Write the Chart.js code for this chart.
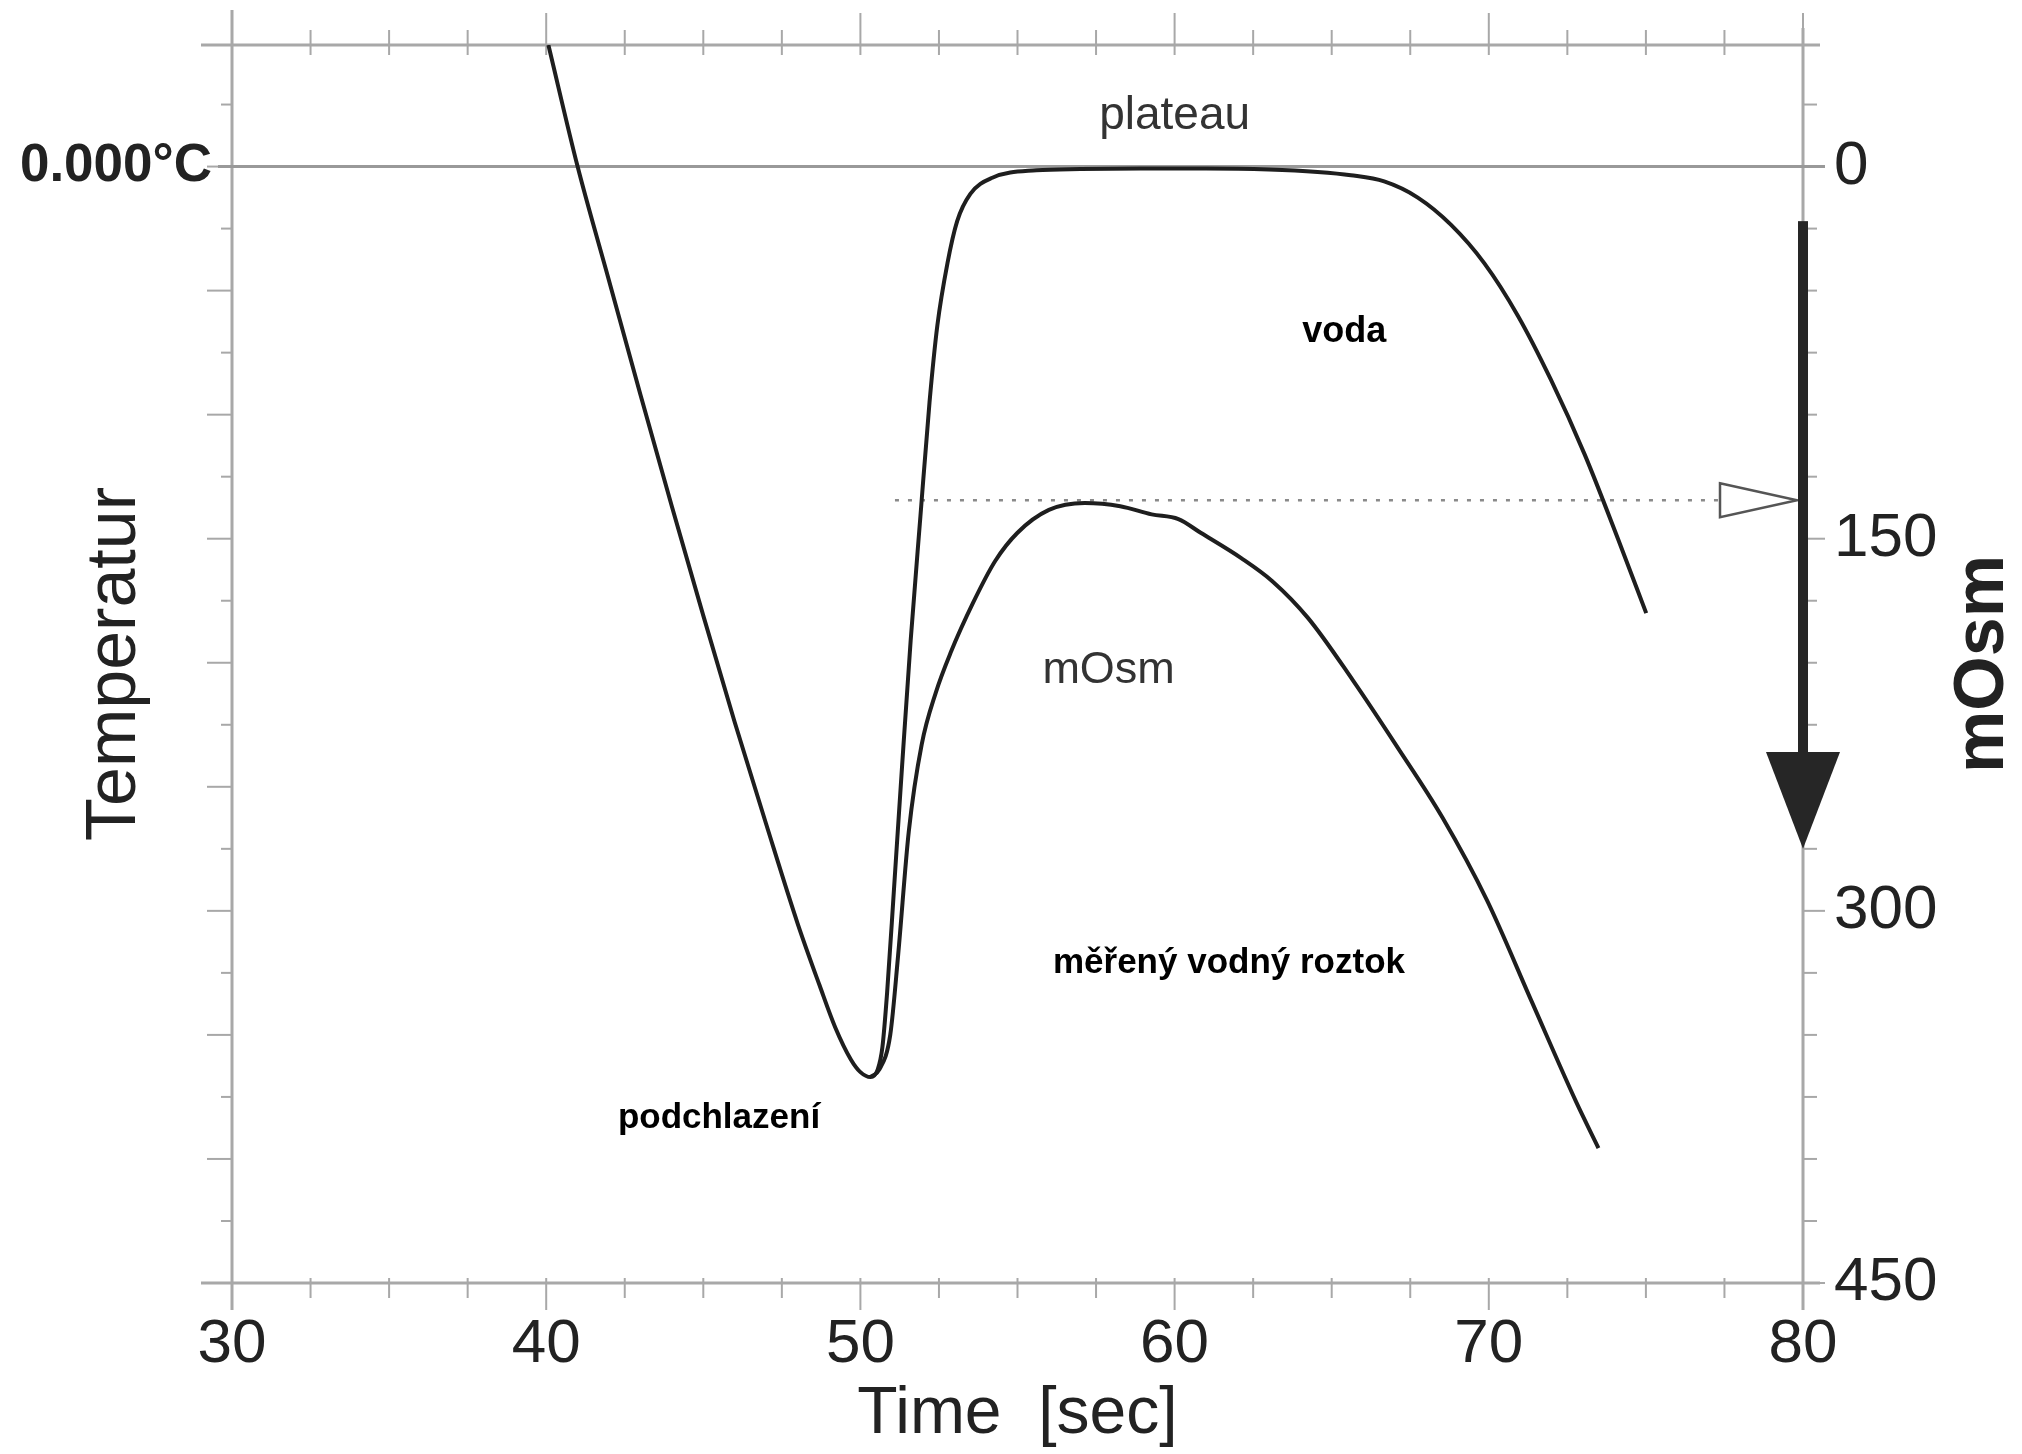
<!DOCTYPE html>
<html lang="cs">
<head>
<meta charset="utf-8">
<title>Křivka tuhnutí – osmometr</title>
<script src="https://cdn.jsdelivr.net/npm/chart.js@4"></script>
<style>
  html, body { margin: 0; padding: 0; background: #fff; }
  #wrap { width: 2022px; height: 1454px; }
</style>
</head>
<body>
<div id="wrap"><canvas id="myChart" width="2022" height="1454"></canvas></div>
<script>
// tick labels
const timeTicks = [30, 40, 50, 60, 70, 80];
const mosmTicks = [0, 150, 300, 450];
const zeroLabel = '0.000°C';

// voda: cooling, supercooling dip, plateau at 0, then falling again
const vodaTime = [40.07, 41.0, 42.0, 43.0, 44.0, 45.0, 46.0, 47.0, 48.0, 48.7, 49.2, 49.7, 50.0, 50.32,
  50.55, 50.7, 50.85, 51.07, 51.33, 51.6, 51.91, 52.2, 52.45, 52.77, 53.08, 53.5, 54.2, 55.6, 57.0, 59.0,
  61.0, 63.0, 64.55, 65.61, 66.67, 67.74, 68.8, 69.86, 70.92, 71.98, 73.05, 74.11, 75.01];
const vodaMosm = [-49, 0, 46, 92, 137, 181, 224, 265, 305, 330, 347, 360, 365, 367,
  364, 355, 333, 291, 241, 191, 141, 95, 64, 39, 22, 11, 4.5, 1.5, 1, 0.8,
  0.8, 1.2, 2.2, 3.5, 6, 12.5, 23.5, 39, 60, 86, 116, 150, 180];

// měřený vodný roztok: rises from the dip to ~135 mOsm and falls
const roztokTime = [50.32, 50.6, 50.95, 51.2, 51.54, 51.95, 52.4, 52.87, 53.58, 54.29, 55.0, 56.0, 57.14,
  58.27, 59.27, 60.12, 60.83, 62.12, 63.11, 64.25, 65.67, 67.09, 68.52, 69.94, 71.36, 72.78, 73.49];
const roztokMosm = [367, 364, 350, 318, 268, 233, 212, 196, 176, 159, 147.6, 138.4, 135.6,
  136.9, 140.2, 142.1, 147.6, 157.8, 167.1, 182, 207, 234, 262.3, 295.7, 336.4, 377, 395.6];

// freezing point of the solution (dotted line + open marker)
const freezeMosm = 134.5;
const freezeFrom = 51.1;

const notes = [
  { text: 'plateau', t: 60.0, m: -20.3, font: 'normal 46px', color: '#333' },
  { text: 'voda', t: 65.4, m: 66.8, font: 'bold 36px', color: '#000' },
  { text: 'mOsm', t: 57.9, m: 203, font: 'normal 45px', color: '#333' },
  { text: 'měřený vodný roztok', t: 61.73, m: 321, font: 'bold 35px', color: '#000' },
  { text: 'podchlazení', t: 45.5, m: 383.5, font: 'bold 35px', color: '#000' }
];

const FONT = "'Liberation Sans', Arial, sans-serif";
Chart.defaults.font.family = FONT;

function seg(ctx, x1, y1, x2, y2) {
  ctx.beginPath();
  ctx.moveTo(x1, y1);
  ctx.lineTo(x2, y2);
  ctx.stroke();
}

// keep tick labels from pushing the plot area around
function noPad(s) {
  s.paddingTop = 0;
  s.paddingBottom = 0;
  s.paddingLeft = 0;
  s.paddingRight = 0;
}

const frame = {
  id: 'frame',
  beforeDatasetsDraw(chart) {
    const { ctx, scales: { x, y2 } } = chart;
    const left = x.left, right = x.right, top = y2.top, bottom = y2.bottom;
    ctx.save();
    ctx.strokeStyle = '#a8a8a8';
    ctx.lineWidth = 3;
    seg(ctx, left - 31, top, right + 17, top);
    seg(ctx, left - 31, bottom, right + 17, bottom);
    seg(ctx, left, top - 35, left, bottom + 27);
    seg(ctx, right, top - 17, right, bottom + 27);

    ctx.lineWidth = 2;
    for (let t = 30; t <= 80; t += 2.5) {
      const px = x.getPixelForValue(t);
      const major = t % 10 === 0;
      seg(ctx, px, top - (major ? 32 : 15), px, top + 10);
      seg(ctx, px, bottom - 5, px, bottom + (major ? 27 : 15));
    }
    for (let v = -25; v <= 450; v += 25) {
      const py = y2.getPixelForValue(v);
      seg(ctx, left - (v % 50 === 0 ? 25 : 11), py, left, py);
      seg(ctx, right, py, right + (mosmTicks.includes(v) ? 22 : 14), py);
    }

    // 0.000 °C line
    ctx.strokeStyle = '#999';
    ctx.lineWidth = 3;
    const z = y2.getPixelForValue(0);
    seg(ctx, left - 14, z, right + 22, z);

    // dotted freezing point line
    const fy = y2.getPixelForValue(freezeMosm);
    ctx.strokeStyle = '#8a8a8a';
    ctx.lineWidth = 2.5;
    ctx.setLineDash([4, 9]);
    seg(ctx, x.getPixelForValue(freezeFrom), fy, right - 84, fy);
    ctx.restore();
  },
  afterDatasetsDraw(chart) {
    const { ctx, scales: { x, y2 } } = chart;
    const right = x.right;
    ctx.save();

    // open marker at the freezing point
    const fy = y2.getPixelForValue(freezeMosm);
    ctx.strokeStyle = '#555';
    ctx.fillStyle = '#fff';
    ctx.lineWidth = 2.5;
    ctx.beginPath();
    ctx.moveTo(right - 83, fy - 17);
    ctx.lineTo(right - 6, fy);
    ctx.lineTo(right - 83, fy + 17);
    ctx.closePath();
    ctx.fill();
    ctx.stroke();

    // downward arrow on the mOsm axis
    ctx.fillStyle = '#262626';
    const a0 = y2.getPixelForValue(22), a1 = y2.getPixelForValue(236), a2 = y2.getPixelForValue(275);
    ctx.fillRect(right - 5, a0, 10, a1 - a0 + 2);
    ctx.beginPath();
    ctx.moveTo(right - 37, a1);
    ctx.lineTo(right + 37, a1);
    ctx.lineTo(right, a2);
    ctx.closePath();
    ctx.fill();

    // text inside the plot
    ctx.textAlign = 'center';
    ctx.textBaseline = 'middle';
    notes.forEach(n => {
      ctx.font = n.font + ' ' + FONT;
      ctx.fillStyle = n.color;
      ctx.fillText(n.text, x.getPixelForValue(n.t), y2.getPixelForValue(n.m));
    });

    // right axis title, read bottom to top
    ctx.font = 'bold 70px ' + FONT;
    ctx.fillStyle = '#222';
    ctx.translate(1984, (y2.top + y2.bottom) / 2);
    ctx.rotate(-Math.PI / 2);
    ctx.fillText('mOsm', 0, 0);
    ctx.restore();
  }
};

const toPoints = (xs, ys) => xs.map((t, i) => ({ x: t, y: ys[i] }));

const config = {
  type: 'line',
  data: {
    datasets: [
      {
        label: 'voda',
        data: toPoints(vodaTime, vodaMosm),
        yAxisID: 'y2',
        borderColor: '#1e1e1e',
        borderWidth: 4,
        pointRadius: 0,
        cubicInterpolationMode: 'monotone'
      },
      {
        label: 'měřený vodný roztok',
        data: toPoints(roztokTime, roztokMosm),
        yAxisID: 'y2',
        borderColor: '#1e1e1e',
        borderWidth: 4,
        pointRadius: 0,
        cubicInterpolationMode: 'monotone'
      }
    ]
  },
  options: {
    responsive: false,
    animation: false,
    layout: { padding: { top: 45, left: 0, right: 0, bottom: 0 } },
    plugins: { legend: { display: false }, tooltip: { enabled: false } },
    scales: {
      x: {
        type: 'linear',
        position: 'bottom',
        min: 30,
        max: 80,
        afterBuildTicks: s => { s.ticks = timeTicks.map(v => ({ value: v })); },
        afterFit: s => { s.height = 171; noPad(s); },
        grid: { display: false, drawTicks: false },
        border: { display: false },
        ticks: { autoSkip: false, maxRotation: 0, padding: 25, color: '#222', font: { size: 62 } },
        title: { display: true, text: 'Time  [sec]', color: '#222', font: { size: 66, lineHeight: 1 }, padding: { top: 0, bottom: 6 } }
      },
      y: {
        type: 'linear',
        position: 'left',
        reverse: true,
        min: -49,
        max: 450,
        afterBuildTicks: s => { s.ticks = [{ value: 0 }]; },
        afterFit: s => { s.width = 232; noPad(s); },
        grid: { display: false, drawTicks: false },
        border: { display: false },
        ticks: { autoSkip: false, padding: 20, color: '#222', font: { size: 53, weight: 'bold' }, callback: () => zeroLabel },
        title: { display: true, text: 'Temperatur', color: '#222', font: { size: 70, lineHeight: 1 }, padding: { top: 81, bottom: 0 } }
      },
      y2: {
        type: 'linear',
        position: 'right',
        reverse: true,
        min: -49,
        max: 450,
        afterBuildTicks: s => { s.ticks = mosmTicks.map(v => ({ value: v })); },
        afterFit: s => { s.width = 219; noPad(s); },
        grid: { display: false, drawTicks: false },
        border: { display: false },
        ticks: { autoSkip: false, padding: 31, color: '#222', font: { size: 62 } },
        title: { display: false }
      }
    }
  },
  plugins: [frame]
};

const myChart = new Chart(document.getElementById('myChart'), config);
</script>
</body>
</html>
